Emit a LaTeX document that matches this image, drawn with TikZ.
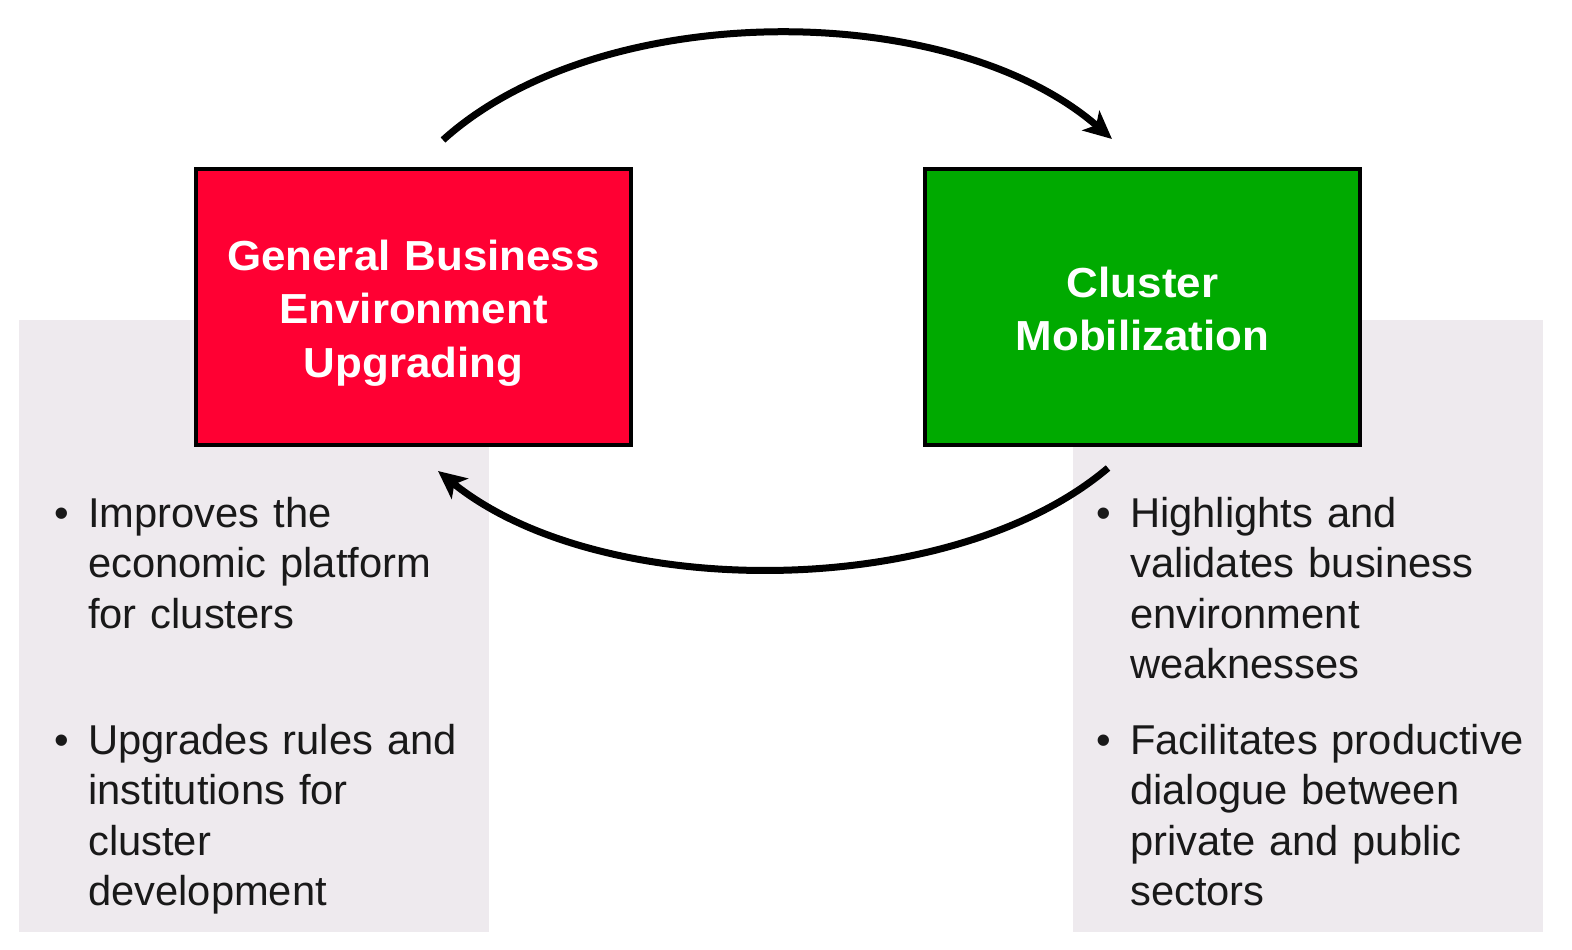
\documentclass[tikz,border=0pt]{standalone}
\usepackage{fontspec}
\setmainfont{Liberation Sans}
\newfontfamily\bodyfont{Liberation Sans}
\newfontfamily\boxfont[FakeStretch=1.045]{Liberation Sans}
\usetikzlibrary{arrows.meta}
\definecolor{boxred}{RGB}{255,0,51}
\definecolor{boxgreen}{RGB}{0,170,0}
\definecolor{panelgray}{RGB}{238,234,238}
\begin{document}
\begin{tikzpicture}[x=1pt,y=-1pt,
  panel/.style={fill=panelgray,draw=none},
  mainbox/.style={draw=black,line width=3.5pt,minimum width=435pt,minimum height=276pt,inner sep=0pt},
  boxtitle/.style={anchor=base,inner sep=0pt,text width=430pt,align=center,text=white,
     font=\boxfont\bfseries\fontsize{42}{53.5}\selectfont},
  bodytext/.style={anchor=base west,inner sep=0pt,text width=460pt,align=left,
     font=\bodyfont\fontsize{41.7}{50.5}\selectfont,text=black!90},
  bulletmark/.style={anchor=base,inner sep=0pt,font=\bodyfont\fontsize{41.7}{50.5}\selectfont,text=black!90},
  cyclearrow/.style={line width=7pt,-{Stealth[length=28pt,width=26pt,inset=7pt]}}]
\useasboundingbox (0,0) rectangle (1572,950);
\fill[white] (0,0) rectangle (1572,950);
% panels
\path[panel] (19,320) rectangle (489,932);
\path[panel] (1073,320) rectangle (1543,932);
% boxes
\node[mainbox,fill=boxred] (gbe) at (413.5,307) {};
\node[mainbox,fill=boxgreen] (cm) at (1142.5,307) {};
\node[boxtitle] (gbet) at (413.5,270) {General Business\\Environment\\Upgrading};
\node[boxtitle] (cmt) at (1142.5,297) {Cluster\\Mobilization};
% arrows
\coordinate (a1) at (443,140);
\coordinate (a2) at (1112,139);
\coordinate (b1) at (1108,468);
\coordinate (b2) at (438,471);
\draw[cyclearrow] (a1) .. controls (600,-2) and (950,-2) .. (a2);
\draw[cyclearrow] (b1) .. controls (950,602) and (600,602) .. (b2);
% left bullets
\node[bulletmark] (lb1) at (62,527) {•};
\node[bodytext] (lt1) at (88,527) {Improves the\\economic platform\\for clusters};
\node[bulletmark] (lb2) at (62,754) {•};
\node[bodytext] (lt2) at (88,754) {Upgrades rules and\\institutions for\\cluster\\development};
% right bullets
\node[bulletmark] (rb1) at (1104,527) {•};
\node[bodytext] (rt1) at (1130,527) {Highlights and\\validates business\\environment\\weaknesses};
\node[bulletmark] (rb2) at (1104,754) {•};
\node[bodytext] (rt2) at (1130,754) {Facilitates productive\\dialogue between\\private and public\\sectors};
\end{tikzpicture}
\end{document}
